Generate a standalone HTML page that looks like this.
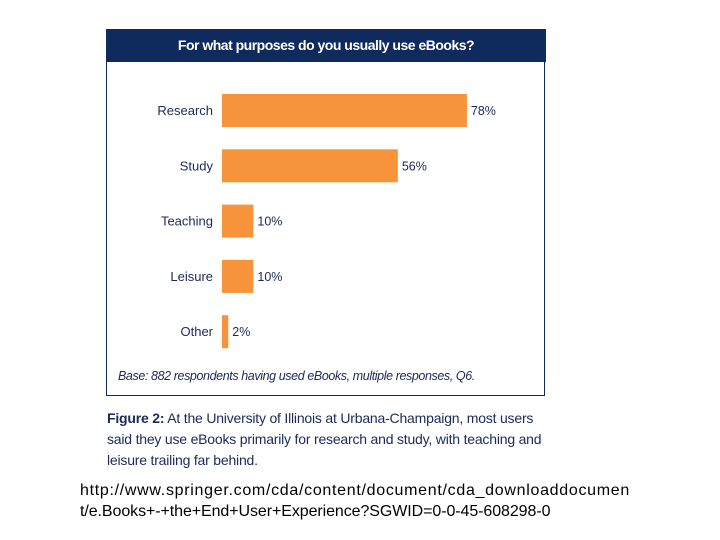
<!DOCTYPE html>
<html><head><meta charset="utf-8"><style>
body{margin:0;width:720px;height:540px;background:#fff;position:relative;overflow:hidden;font-family:"Liberation Sans",sans-serif}
#box{position:absolute;left:106px;top:29px;width:437px;height:366px;border:1.5px solid #0f2a5c;border-top:none}
#hdr{position:absolute;left:106px;top:29px;width:440px;height:33px;background:#0f2a5c;color:#fff;font-size:14px;font-weight:bold;text-align:center;line-height:33px;letter-spacing:-0.5px}
.t{position:absolute;white-space:nowrap}
</style></head><body>
<div id="box"></div>
<div id="hdr">For what purposes do you usually use eBooks?</div>
<svg width="720" height="540" style="position:absolute;left:0;top:0"></svg>
<div class="t" style="left:118px;top:369px;font-size:12.5px;font-style:italic;color:#1a2a5a;letter-spacing:-0.4px">Base: 882 respondents having used eBooks, multiple responses, Q6.</div>
<div class="t" style="left:107px;top:408px;font-size:14px;line-height:21px;color:#1a2a5a;letter-spacing:-0.2px"><b>Figure 2:</b> At the University of Illinois at Urbana-Champaign, most users<br>said they use eBooks primarily for research and study, with teaching and<br>leisure trailing far behind.</div>
<div class="t" style="left:80px;top:480px;font-size:16px;line-height:21px;color:#000"><span style="letter-spacing:0.7px">http://www.springer.com/cda/content/document/cda_downloaddocumen</span><br><span style="letter-spacing:-0.08px">t/e.Books+-+the+End+User+Experience?SGWID=0-0-45-608298-0</span></div>
<script>
const categories=["Research","Study","Teaching","Leisure","Other"];
const values=[78,56,10,10,2];
const valueLabels=["78%","56%","10%","10%","2%"];
const svg=document.querySelector('svg');
const NS='http://www.w3.org/2000/svg';
const x0=222, pxPer=3.14, y0=94, step=55.3, bh=33;
const xs=v=>x0+v*pxPer;
const ys=i=>y0+i*step;
categories.forEach((c,i)=>{
 const r=document.createElementNS(NS,'rect');
 r.setAttribute('x',x0);r.setAttribute('y',ys(i));
 r.setAttribute('width',xs(values[i])-x0);r.setAttribute('height',bh);
 r.setAttribute('fill','#f7933a');
 
 
 svg.appendChild(r);
 const l=document.createElementNS(NS,'text');
 l.setAttribute('x',213);l.setAttribute('y',ys(i)+bh/2+4.5);
 l.setAttribute('text-anchor','end');l.setAttribute('font-size','13');l.setAttribute('fill','#1a2a5a');
 l.textContent=c;
 
 
 svg.appendChild(l);
 const v=document.createElementNS(NS,'text');
 v.setAttribute('x',xs(values[i])+4);v.setAttribute('y',ys(i)+bh/2+4.5);
 v.setAttribute('font-size','12.5');v.setAttribute('fill','#1a2a5a');
 v.textContent=valueLabels[i];
 
 
 svg.appendChild(v);
});
</script>
</body></html>
